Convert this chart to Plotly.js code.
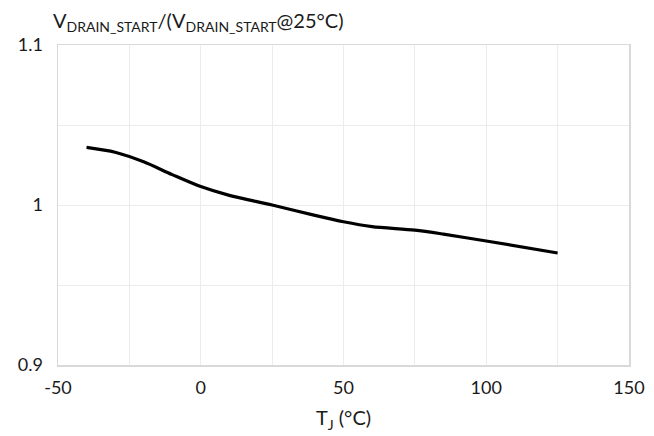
<!DOCTYPE html>
<html>
<head>
<meta charset="utf-8">
<script src="https://cdn.plot.ly/plotly-3.0.1.min.js"></script>
<style>html,body{margin:0;padding:0;background:#fff;}#chart{width:654px;height:436px;}</style>
</head>
<body>
<div id="chart"></div>
<script>
var tempC = [-40, -30, -20, -10, 0, 10, 25, 40, 50, 60, 75, 85, 100, 125];
var ratio = [1.036, 1.033, 1.027, 1.019, 1.0115, 1.006, 1.0, 0.9935, 0.9895, 0.9865, 0.9843, 0.9818, 0.9775, 0.970];
var xTicks = [-50, 0, 50, 100, 150];
var yTicks = [0.9, 1, 1.1];
var yTickText = ['0.9', '1', '1.1'];

var fontFam = 'Lato, "Open Sans", sans-serif';
var trace = {
  x: tempC, y: ratio, mode: 'lines', type: 'scatter',
  line: {color: '#000', width: 3.2, shape: 'spline', smoothing: 0.8},
  hoverinfo: 'skip', showlegend: false
};
var layout = {
  width: 654, height: 436,
  margin: {l: 58, r: 25, t: 45, b: 71},
  paper_bgcolor: '#fff', plot_bgcolor: '#fff',
  font: {family: fontFam, color: '#1a1a1a', size: 18},
  title: {
    text: 'V<sub>DRAIN_START</sub>/(V<sub>DRAIN_START</sub>@25°C)',
    x: 53/654, xref: 'container', xanchor: 'left',
    y: 1 - 21/436, yanchor: 'middle', yref: 'container',
    font: {family: fontFam, size: 20, color: '#1a1a1a'}
  },
  xaxis: {
    range: [-50, 150], tickvals: xTicks, ticktext: xTicks.map(String),
    showgrid: true, gridcolor: '#ececec', gridwidth: 1,
    minor: {tickvals: [-25, 25, 75, 125], showgrid: true, gridcolor: '#ececec', gridwidth: 1, ticks: ''},
    showline: true, linecolor: '#d9d9d9', linewidth: 1.5, mirror: true,
    zeroline: false, ticks: '', ticklen: 0, ticklabelstandoff: 6,
    tickfont: {family: fontFam, size: 18, color: '#1a1a1a'},
    title: {text: 'T<sub>J</sub> (°C)', font: {family: fontFam, size: 20, color: '#1a1a1a'}, standoff: 14}
  },
  yaxis: {
    range: [0.9, 1.1], tickvals: yTicks, ticktext: yTickText,
    showgrid: false,
    minor: {tickvals: [0.95, 1, 1.05], showgrid: true, gridcolor: '#ececec', gridwidth: 1, ticks: ''},
    showline: true, linecolor: '#d9d9d9', linewidth: 1.5, mirror: true,
    zeroline: false, ticks: '', ticklen: 0, ticklabelstandoff: 10,
    tickfont: {family: fontFam, size: 18, color: '#1a1a1a'}
  }
};
Plotly.newPlot('chart', [trace], layout, {displayModeBar: false, staticPlot: true});
</script>
</body>
</html>
